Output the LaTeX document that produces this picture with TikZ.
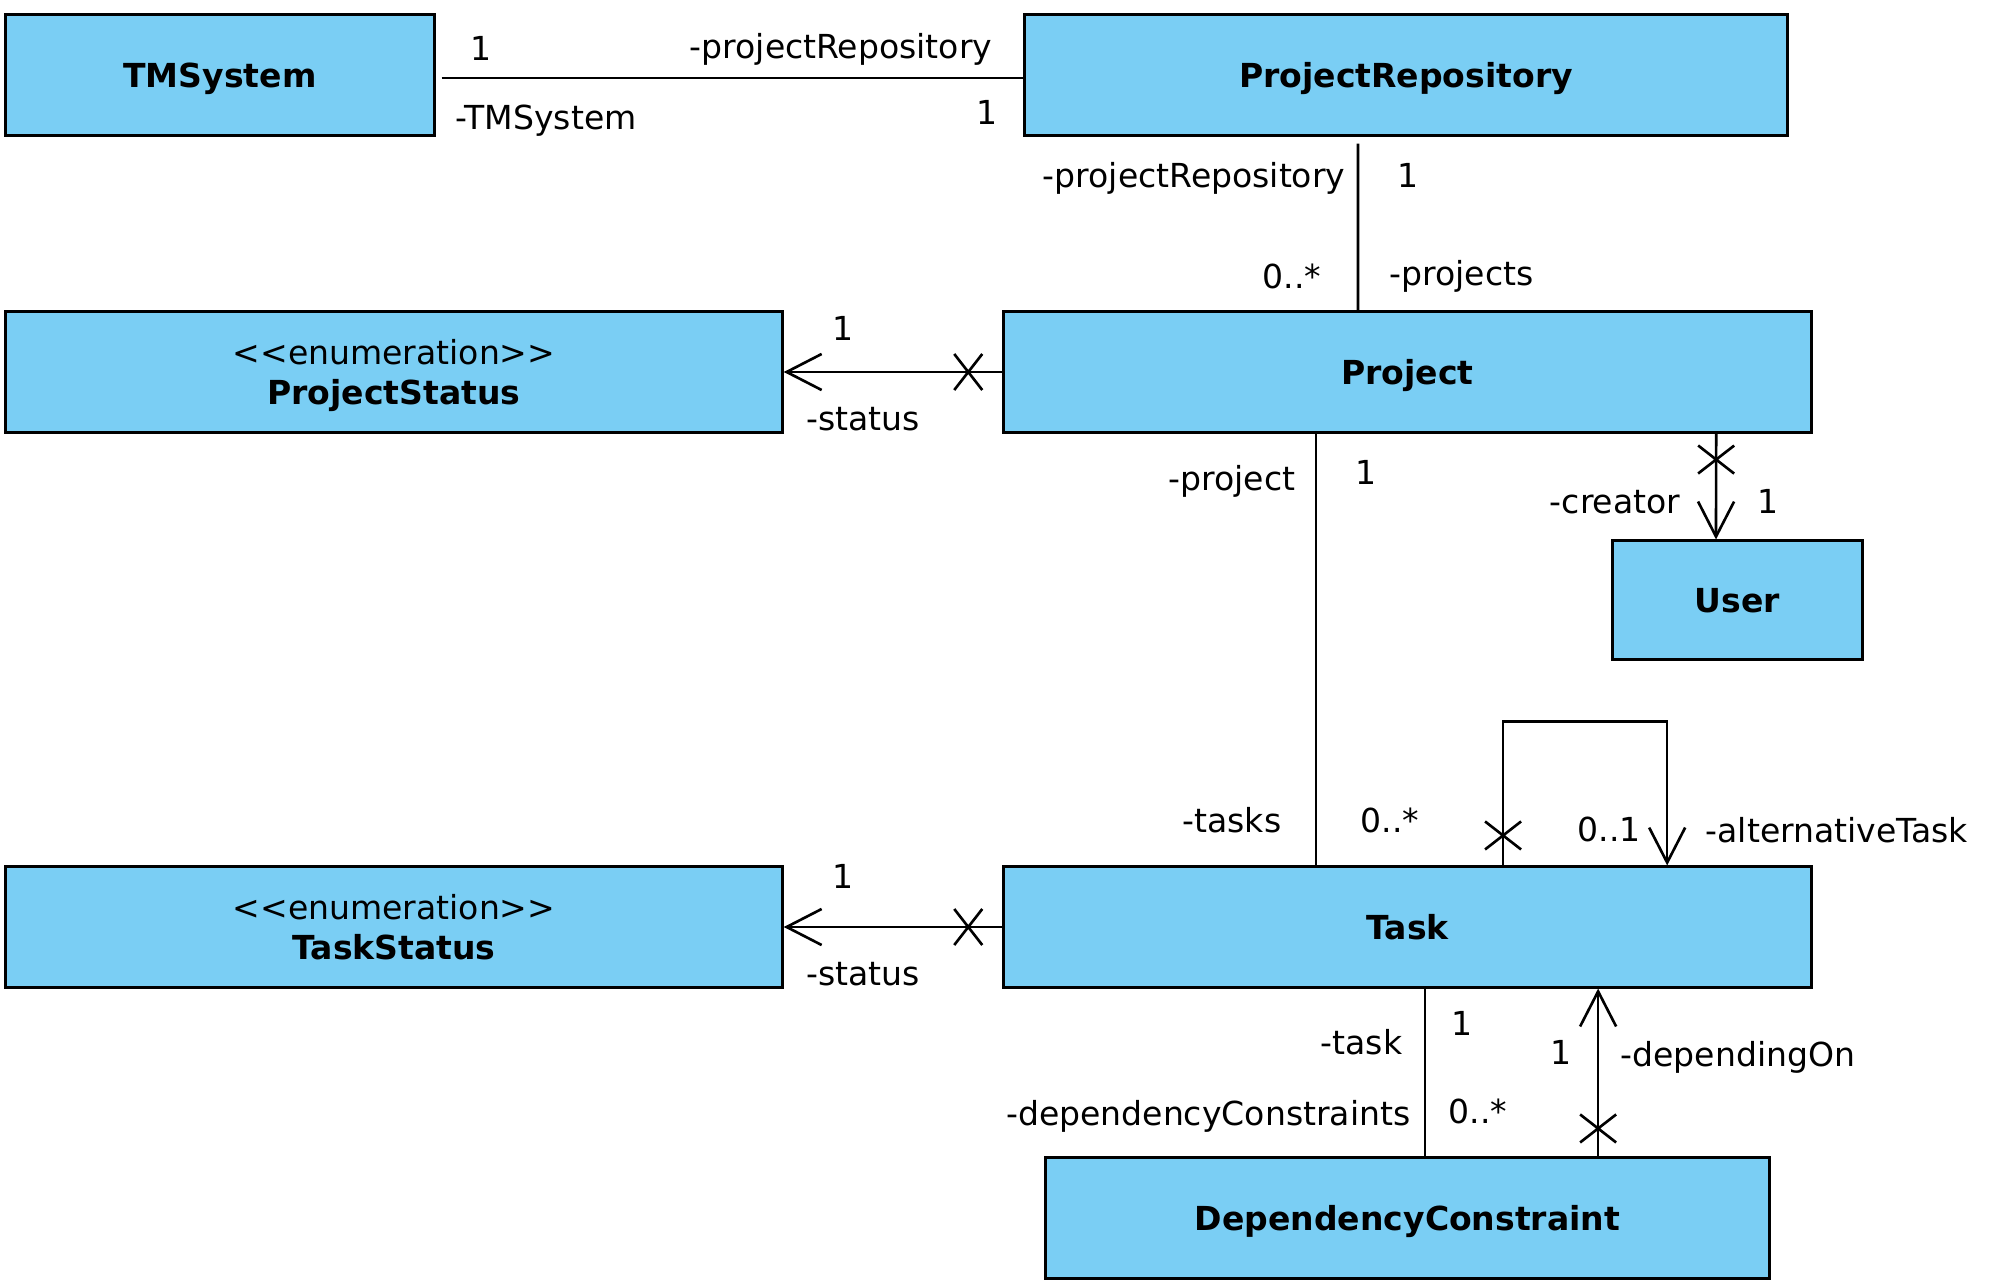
\documentclass[tikz,border=0pt]{standalone}
\usepackage{fontspec}
\setmainfont{DejaVu Sans}
\usetikzlibrary{arrows.meta,decorations.markings}
\definecolor{klassblau}{RGB}{122,206,244}
\tikzset{
	klasse/.style={draw, line width=0.85pt, fill=klassblau, inner sep=0pt,
	minimum height=1.2cm, align=center, text depth=0cm,
	font=\fontsize{9.4}{11.5}\selectfont\bfseries},
	rolle/.style={inner sep=0pt, text height=0.24cm, text depth=0cm,
	font=\fontsize{9.4}{11.5}\selectfont},
	assoz/.style={line width=0.75pt},
	offen/.style={-{Straight Barb[length=0.35cm, width=0.36cm, line width=0.75pt]}},
	navx/.style={postaction={decorate, decoration={markings,
	mark=at position #1 with {\draw[-, line width=0.75pt] (-0.14cm,-0.18cm) --
	(0.14cm,0.18cm) (-0.14cm,0.18cm) -- (0.14cm,-0.18cm);}}}},
	navx/.default=0.3cm
}
\begin{document}
\begin{tikzpicture}[x=0.01cm, y=-0.01cm]
	\useasboundingbox (0,0) rectangle (2000,1288);
	% Klassen
	\node[klasse, minimum width=4.28cm] (tmsystem) at (220,75) {TMSystem};
	\node[klasse, minimum width=7.62cm] (prjrepo) at (1406,75) {ProjectRepository};
	\node[klasse, minimum width=7.76cm] (pstatus) at (394,372)
	{{\mdseries <\kern0pt<enumeration>\kern0pt>}\\ProjectStatus};
	\node[klasse, minimum width=8.07cm] (project) at (1407.5,372) {Project};
	\node[klasse, minimum width=2.49cm, minimum height=1.18cm] (user) at
	(1737.5,600) {User};
	\node[klasse, minimum width=7.76cm] (tstatus) at (394,927)
	{{\mdseries <\kern0pt<enumeration>\kern0pt>}\\TaskStatus};
	\node[klasse, minimum width=8.07cm] (task) at (1407.5,927) {Task};
	\node[klasse, minimum width=7.23cm] (depcons) at (1407.5,1218)
	{DependencyConstraint};

	% Assoziationen
	\draw[assoz, shorten <=0.06cm] ([yshift=-0.03cm]tmsystem.east) --
	([yshift=-0.03cm]prjrepo.west);
	\draw[assoz, shorten <=0.07cm] ([xshift=-0.48cm]prjrepo.south) --
	([xshift=-0.495cm]project.north);
	\draw[assoz, offen, navx=0.34cm] (project.west) -- (pstatus.east);
	\draw[assoz] ([xshift=-0.915cm]project.south) --
	([xshift=-0.915cm]task.north);
	\draw[assoz, offen, navx=0.26cm] ([xshift=3.085cm]project.south) --
	([xshift=-0.215cm]user.north);
	\draw[assoz, offen, navx=0.3cm] ([xshift=0.955cm]task.north) -- ++(0,-144)
	-| ([xshift=2.595cm]task.north);
	\draw[assoz, offen, navx=0.34cm] (task.west) -- (tstatus.east);
	\draw[assoz] ([xshift=0.175cm]task.south) -- ([xshift=0.175cm]depcons.north);
	\draw[assoz, offen, navx=0.28cm] ([xshift=1.905cm]depcons.north) --
	([xshift=1.905cm]task.south);

	% Rollen und Multiplizitaeten
	\node[rolle] (m-tms) at (481,48) {1};
	\node[rolle] (r-tms-repo) at (841,46) {-projectRepository};
	\node[rolle, anchor=west] (r-tms) at (455,117) {-TMSystem};
	\node[rolle] (m-repo-tms) at (987,112) {1};
	\node[rolle, anchor=east] (r-repo) at (1346,175) {-projectRepository};
	\node[rolle] (m-repo) at (1408,175) {1};
	\node[rolle] (m-projects) at (1292,276) {0..*};
	\node[rolle, anchor=west] (r-projects) at (1389,273) {-projects};
	\node[rolle] (m-pstatus) at (843,328) {1};
	\node[rolle] (r-pstatus) at (863,418) {-status};
	\node[rolle, anchor=east] (r-project) at (1296,478) {-project};
	\node[rolle] (m-project) at (1366,472) {1};
	\node[rolle, anchor=east] (r-creator) at (1681,501) {-creator};
	\node[rolle] (m-creator) at (1768,501) {1};
	\node[rolle, anchor=east] (r-tasks) at (1282,820) {-tasks};
	\node[rolle] (m-tasks) at (1390,820) {0..*};
	\node[rolle] (m-alt) at (1609,829) {0..1};
	\node[rolle, anchor=west] (r-alt) at (1705,830) {-alternativeTask};
	\node[rolle] (m-tstatus) at (843,876) {1};
	\node[rolle] (r-tstatus) at (863,973) {-status};
	\node[rolle, anchor=east] (r-task) at (1403,1042) {-task};
	\node[rolle] (m-task) at (1462,1023) {1};
	\node[rolle, anchor=east] (r-depcons) at (1411,1113) {-dependencyConstraints};
	\node[rolle] (m-depcons) at (1478,1111) {0..*};
	\node[rolle] (m-depon) at (1561,1052) {1};
	\node[rolle, anchor=west] (r-depon) at (1620,1054) {-dependingOn};
\end{tikzpicture}
\end{document}
